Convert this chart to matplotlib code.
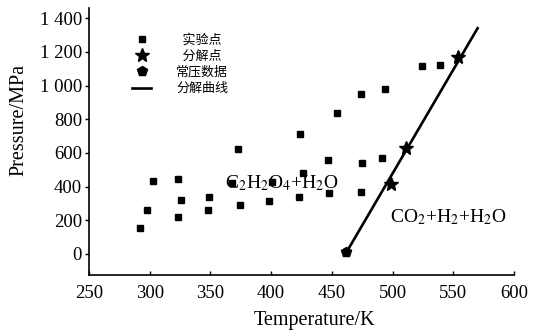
import matplotlib
matplotlib.use('Agg')
import matplotlib.pyplot as plt

plt.rcParams['font.family'] = ['Liberation Serif', 'Noto Sans CJK SC']
plt.rcParams['mathtext.fontset'] = 'stix'

# Experimental points (temperature K, pressure MPa)
exp_T = [292, 298, 303, 323.5, 323.5, 326, 348, 349, 368, 373, 374, 398.6, 401,
         423, 424, 426, 447, 448, 454, 474, 474, 475, 491, 494, 524, 539]
exp_P = [154, 261, 433, 445, 219, 320, 261, 338, 421, 623, 290, 314, 427,
         338, 711, 480, 557, 362, 836, 949, 368, 540, 569, 979, 1115, 1121]

# Decomposition points
dec_T = [499, 511, 554]
dec_P = [415, 629, 1168]

# Atmospheric pressure data
atm_T = [462]
atm_P = [10]

# Decomposition curve
curve_T = [462, 570]
curve_P = [10, 1340]

yticks = [0, 200, 400, 600, 800, 1000, 1200, 1400]
ytick_labels = ['0', '200', '400', '600', '800', '1 000', '1 200', '1 400']
xticks = [250, 300, 350, 400, 450, 500, 550, 600]

fig = plt.figure(figsize=(5.36, 3.33), dpi=100)
ax = fig.add_axes([0.166, 0.174, 0.793, 0.802])

ax.plot(exp_T, exp_P, 's', color='black', markersize=4.3, linestyle='none', label='\u2002实验点')
ax.plot(dec_T, dec_P, '*', color='black', markersize=10, linestyle='none', label='\u2002分解点', zorder=4)
ax.plot(atm_T, atm_P, 'p', color='black', markersize=7, linestyle='none', label='常压数据', zorder=4)
ax.plot(curve_T, curve_P, '-', color='black', linewidth=1.9, label='分解曲线')

ax.text(409, 422, r'C$_2$H$_2$O$_4$+H$_2$O', fontsize=14, ha='center', va='center')
ax.text(546, 219, r'CO$_2$+H$_2$+H$_2$O', fontsize=14, ha='center', va='center')

ax.set_xlim(250, 600)
ax.set_ylim(-125, 1460)
ax.set_xticks(xticks)
ax.set_yticks(yticks)
ax.set_yticklabels(ytick_labels)
ax.tick_params(axis='x', direction='in', length=3, width=1, labelsize=13.5, pad=7)
ax.tick_params(axis='y', direction='out', length=3, width=1, labelsize=13.5, pad=2)

for s in ['top', 'right']:
    ax.spines[s].set_visible(False)
for s in ['left', 'bottom']:
    ax.spines[s].set_linewidth(1.2)

ax.set_xlabel('Temperature/K', fontsize=14.5, labelpad=0)
ax.xaxis.set_label_coords(0.53, -0.135)
ax.set_ylabel('Pressure/MPa', fontsize=14.5)
ax.yaxis.set_label_coords(-0.143, 0.58)

leg = ax.legend(loc='upper left', bbox_to_anchor=(0.101, 0.905), frameon=False,
                handlelength=1.5, handletextpad=1.9,
                labelspacing=0.25, borderpad=0, borderaxespad=0,
                prop={'family': ['Noto Sans CJK SC'], 'size': 9.4})

fig.savefig('out.png', dpi=100)
